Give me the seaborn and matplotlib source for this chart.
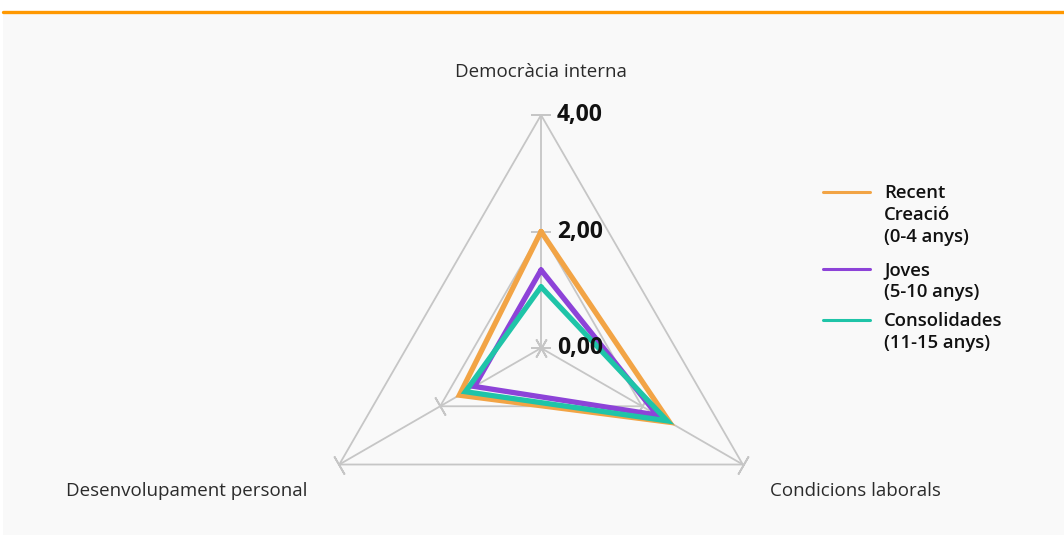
import numpy as np
import pandas as pd
import matplotlib.pyplot as plt
from matplotlib.lines import Line2D
from matplotlib.patches import Rectangle
import seaborn as sns

# axes of the radar, clockwise from the top
axes_labels = ["Democràcia interna", "Condicions laborals", "Desenvolupament personal"]
groups = ["Recent\nCreació\n(0-4 anys)", "Joves\n(5-10 anys)", "Consolidades\n(11-15 anys)"]
recent = [2.00, 2.55, 1.62]
joves = [1.34, 2.30, 1.32]
consolidades = [1.05, 2.50, 1.50]
grid_levels = [0.0, 2.0, 4.0]
grid_labels = ["0,00", "2,00", "4,00"]
colors = ["#f2a445", "#8d43d8", "#1fc4a8"]

sns.set_theme(style="white")
plt.rcParams['font.family'] = ['Open Sans', 'DejaVu Sans']

theta = np.arange(len(axes_labels)) * 2 * np.pi / len(axes_labels)
theta_closed = np.append(theta, 2 * np.pi)

rows = []
for name, vals in zip(groups, [recent, joves, consolidades]):
    vals_closed = list(vals) + [vals[0]]
    for i, (t, v) in enumerate(zip(theta_closed, vals_closed)):
        rows.append({"group": name, "theta": t, "value": v, "order": i})
df = pd.DataFrame(rows)

fig = plt.figure(figsize=(10.64, 5.35), dpi=100)
fig.patch.set_facecolor("white")
fig.patches.append(Rectangle((3 / 1064, 0), 1, (535 - 14) / 535, transform=fig.transFigure,
                             facecolor="#f9f9f9", edgecolor="none", zorder=-5))
fig.lines.append(Line2D([3 / 1064, 1], [(535 - 11.5) / 535] * 2, transform=fig.transFigure,
                        color="#ff9800", lw=2.4, zorder=-4))

ax = fig.add_axes([0.2895, -0.086, 0.438, 0.871], projection="polar")
ax.set_theta_offset(np.pi / 2)
ax.set_theta_direction(-1)
ax.set_ylim(0, 4)
ax.set_axis_off()

grid_color = "#c6c6c6"
# triangular grid + spokes
for lvl in grid_levels[1:]:
    ax.plot(theta_closed, [lvl] * len(theta_closed), color=grid_color, lw=1.3, clip_on=False, zorder=1)
for t in theta:
    ax.plot([t, t], [0, grid_levels[-1]], color=grid_color, lw=1.3, clip_on=False, zorder=1)
    rot = 90 - np.degrees(t)
    for lvl in grid_levels:
        ax.plot([t], [lvl], marker=(2, 2, rot), markersize=15, color=grid_color,
                markeredgewidth=1.3, clip_on=False, zorder=1)

sns.lineplot(data=df, x="theta", y="value", hue="group", palette=colors, sort=False,
             estimator=None, units="group", lw=3.8, ax=ax, legend=False, clip_on=False,
             solid_joinstyle="miter", zorder=3)

for lvl, lab in zip(grid_levels, grid_labels):
    ax.annotate(lab, xy=(0, lvl), xytext=(16, 0), textcoords="offset pixels",
                ha="left", va="center", fontsize=16.5, fontweight="bold", color="#111111")

# axis names
label_pos = [(541, 72), (855, 491), (187, 491)]
for lab, (px, py) in zip(axes_labels, label_pos):
    fig.text(px / 1064, 1 - py / 535, lab, ha="center", va="center", fontsize=13.5, color="#2b2b2b")

# legend
legend_y = [192, 269, 320]
for name, c, ly in zip(groups, colors, legend_y):
    yf = 1 - ly / 535
    fig.lines.append(Line2D([823 / 1064, 870 / 1064], [yf, yf], transform=fig.transFigure, color=c, lw=2.2))
    fig.text(884 / 1064, 1 - (ly - 8) / 535, name, ha="left", va="top", fontsize=13.3,
             fontweight="semibold", color="#111111", linespacing=1.3)

fig.savefig("out.png", dpi=100)
